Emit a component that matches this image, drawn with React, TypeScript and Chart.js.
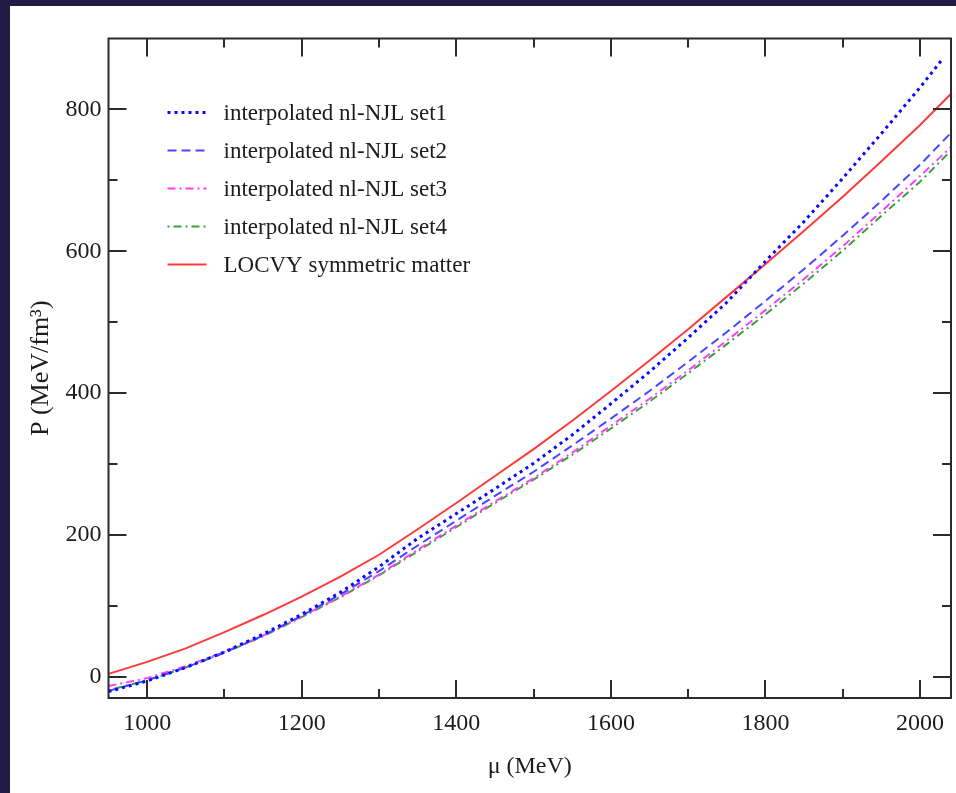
import React, { useEffect, useRef } from "react";
import { Chart, registerables } from "chart.js";

Chart.register(...registerables);

// μ (MeV) grid
const muGrid = [950, 1000, 1050, 1100, 1150, 1200, 1250, 1300, 1350, 1400, 1450, 1500, 1550, 1600, 1650, 1700, 1750, 1800, 1850, 1900, 1950, 2000, 2040];
const muSet1 = [950, 1000, 1050, 1100, 1150, 1200, 1250, 1300, 1350, 1400, 1450, 1500, 1550, 1600, 1650, 1700, 1750, 1800, 1850, 1900, 1950, 2000, 2029];

// P (MeV/fm^3)
const set1 = [-21, -6, 13, 35, 60, 88, 119, 155, 195, 230, 265, 301, 341, 385, 430, 478, 528, 586, 642, 703, 766, 831, 871];
const set2 = [-20, -5, 13, 34, 58, 86, 116, 149, 185, 220, 255, 289, 326, 364, 403, 444, 486, 530, 575, 622, 671, 722, 767];
const set3 = [-13, -2, 15, 35, 58, 85, 113, 144, 179, 213, 247, 280, 316, 354, 392, 432, 474, 517, 561, 607, 656, 706, 747];
const set4 = [-19, -5, 13, 34, 57, 84, 112, 143, 177, 211, 245, 278, 313, 350, 388, 428, 469, 511, 555, 601, 650, 698, 742];
const locvy = [4, 21, 40, 63, 87, 113, 141, 172, 208, 245, 283, 321, 361, 403, 446, 490, 536, 582, 629, 677, 727, 778, 822];

const seriesLabels = [
  "interpolated nl-NJL set1",
  "interpolated nl-NJL set2",
  "interpolated nl-NJL set3",
  "interpolated nl-NJL set4",
  "LOCVY symmetric matter",
];

const xMajorTicks = [1000, 1200, 1400, 1600, 1800, 2000];
const xMinorTicks = [1100, 1300, 1500, 1700, 1900];
const yMajorTicks = [0, 200, 400, 600, 800];
const yMinorTicks = [100, 300, 500, 700];

const SERIF = '"Liberation Serif", "Times New Roman", serif';
const TEXT = "#1c1c1c";

const toPts = (xs: number[], ys: number[]) => xs.map((x, i) => ({ x, y: ys[i] }));

const framePlugin = {
  id: "frameTicks",
  afterDatasetsDraw(chart: any) {
    const { ctx, chartArea } = chart;
    const { left, right, top, bottom } = chartArea;
    const xs = chart.scales.x;
    const ys = chart.scales.y;
    ctx.save();
    ctx.strokeStyle = "#2b2b2b";
    ctx.lineWidth = 2;
    ctx.setLineDash([]);
    ctx.strokeRect(left, top, right - left, bottom - top);
    const major = 18;
    const minor = 9;
    ctx.beginPath();
    const vx = (v: number, len: number) => {
      const p = Math.round(xs.getPixelForValue(v));
      ctx.moveTo(p, bottom);
      ctx.lineTo(p, bottom - len);
      ctx.moveTo(p, top);
      ctx.lineTo(p, top + len);
    };
    const vy = (v: number, len: number) => {
      const p = Math.round(ys.getPixelForValue(v));
      ctx.moveTo(left, p);
      ctx.lineTo(left + len, p);
      ctx.moveTo(right, p);
      ctx.lineTo(right - len, p);
    };
    xMajorTicks.forEach((v) => vx(v, major));
    xMinorTicks.forEach((v) => vx(v, minor));
    yMajorTicks.forEach((v) => vy(v, major));
    yMinorTicks.forEach((v) => vy(v, minor));
    ctx.stroke();
    ctx.restore();
  },
};

const legendPlugin = {
  id: "inlineLegend",
  afterDraw(chart: any) {
    const { ctx, chartArea } = chart;
    const x0 = chartArea.left + 59;
    const x1 = x0 + 39;
    const tx = chartArea.left + 115;
    chart.data.datasets.forEach((ds: any, i: number) => {
      const y = chartArea.top + 74 + i * 38;
      ctx.save();
      ctx.strokeStyle = ds.borderColor;
      ctx.lineWidth = ds.borderWidth;
      ctx.setLineDash(ds.borderDash || []);
      ctx.beginPath();
      ctx.moveTo(x0, y);
      ctx.lineTo(x1, y);
      ctx.stroke();
      ctx.setLineDash([]);
      ctx.fillStyle = TEXT;
      ctx.font = `23px ${SERIF}`;
      ctx.textBaseline = "middle";
      ctx.textAlign = "left";
      ctx.fillText(ds.label, tx, y + 1);
      ctx.restore();
    });
  },
};

export default function App() {
  const ref = useRef<HTMLCanvasElement | null>(null);

  useEffect(() => {
    if (!ref.current) return;
    const chart = new Chart(ref.current, {
      type: "line",
      data: {
        datasets: [
          {
            label: seriesLabels[0],
            data: toPts(muSet1, set1),
            borderColor: "#0a0aff",
            borderWidth: 3,
            borderDash: [3, 4],
          },
          {
            label: seriesLabels[1],
            data: toPts(muGrid, set2),
            borderColor: "#4747ff",
            borderWidth: 2,
            borderDash: [9, 5],
          },
          {
            label: seriesLabels[2],
            data: toPts(muGrid, set3),
            borderColor: "#ff3cff",
            borderWidth: 2,
            borderDash: [8, 4, 2, 4],
          },
          {
            label: seriesLabels[3],
            data: toPts(muGrid, set4),
            borderColor: "#3ca03c",
            borderWidth: 2,
            borderDash: [2, 4, 8, 4],
          },
          {
            label: seriesLabels[4],
            data: toPts(muGrid, locvy),
            borderColor: "#ff3a3a",
            borderWidth: 2,
            borderDash: [],
          },
        ],
      },
      options: {
        responsive: false,
        animation: false,
        devicePixelRatio: 1,
        layout: { padding: { top: 38.5, right: 5, left: 0, bottom: 0 } },
        elements: {
          point: { radius: 0, hoverRadius: 0 },
          line: { tension: 0, fill: false, borderCapStyle: "butt" },
        },
        plugins: {
          legend: { display: false },
          tooltip: { enabled: false },
        },
        scales: {
          x: {
            type: "linear",
            min: 950,
            max: 2040,
            grid: { display: false, drawTicks: false },
            border: { display: false },
            afterBuildTicks: (s: any) => {
              s.ticks = xMajorTicks.map((v) => ({ value: v }));
            },
            afterFit: (s: any) => {
              s.height = 95;
            },
            ticks: {
              autoSkip: false,
              maxRotation: 0,
              padding: 11,
              color: TEXT,
              font: { family: SERIF, size: 24 },
              callback: (v: any) => String(v),
            },
            title: {
              display: true,
              text: "μ (MeV)",
              color: TEXT,
              font: { family: SERIF, size: 24 },
              padding: { top: 0, bottom: 12 },
            },
          },
          y: {
            type: "linear",
            min: -30,
            max: 900,
            grid: { display: false, drawTicks: false },
            border: { display: false },
            afterBuildTicks: (s: any) => {
              s.ticks = yMajorTicks.map((v) => ({ value: v }));
            },
            afterFit: (s: any) => {
              s.width = 108.5;
            },
            ticks: {
              autoSkip: false,
              padding: 7,
              color: TEXT,
              font: { family: SERIF, size: 24 },
              callback: (v: any) => String(v),
            },
            title: {
              display: true,
              text: "P (MeV/fm³)",
              color: TEXT,
              font: { family: SERIF, size: 26 },
              padding: { top: 26, bottom: 0 },
            },
          },
        },
      },
      plugins: [framePlugin, legendPlugin],
    } as any);
    return () => chart.destroy();
  }, []);

  return (
    <div
      style={{
        position: "fixed",
        left: 0,
        top: 0,
        width: 956,
        height: 793,
        background: "#221b45",
        overflow: "hidden",
      }}
    >
      <div
        style={{
          position: "absolute",
          left: 10,
          top: 6,
          right: 0,
          bottom: 0,
          background: "#ffffff",
        }}
      />
      <canvas
        ref={ref}
        width={956}
        height={793}
        style={{ position: "absolute", left: 0, top: 0 }}
      />
    </div>
  );
}
